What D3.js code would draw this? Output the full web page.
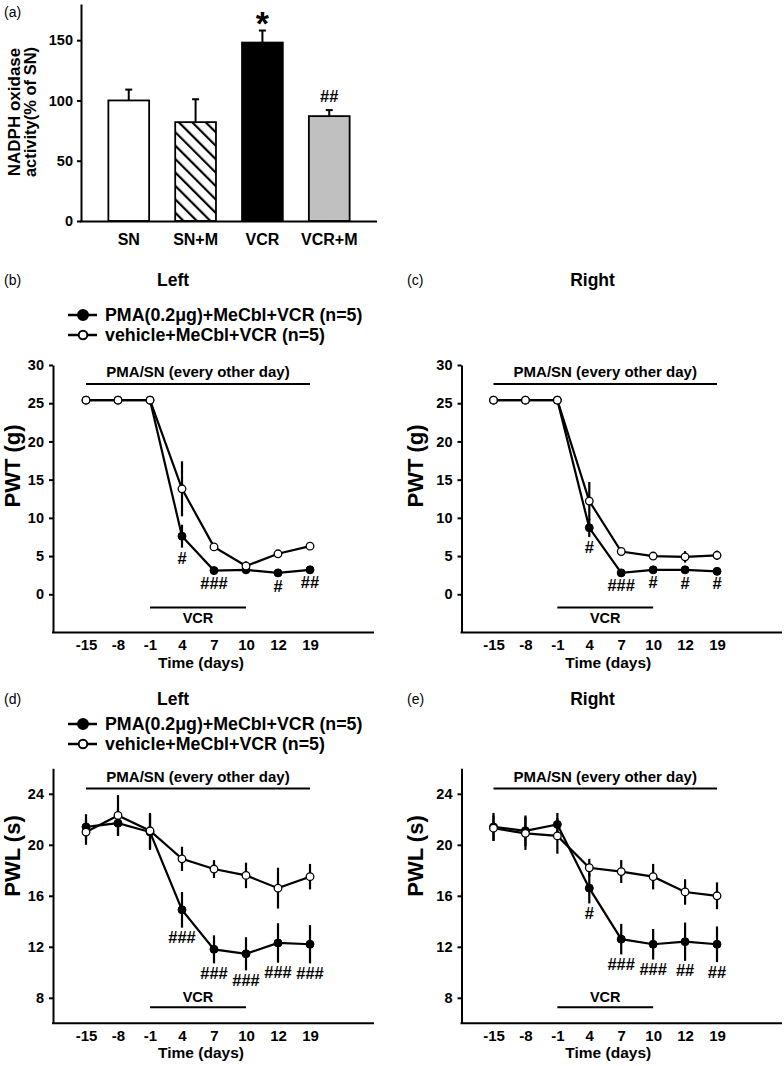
<!DOCTYPE html>
<html><head><meta charset="utf-8">
<script src="https://cdn.jsdelivr.net/npm/d3@7"></script>
<style>body{margin:0;background:#fff} svg text{font-family:"Liberation Sans",Arial,Helvetica,sans-serif}</style>
</head><body><svg id="c" width="784" height="1066"></svg>
<script>
// ---------- data: panel (a) ----------
const barCategories = ["SN", "SN+M", "VCR", "VCR+M"];
const barValues = [100, 82, 148, 87];
const barErrors = [9, 19, 10, 5];
const barMarks = ["", "", "*", "##"];
const barTicks = [0, 50, 100, 150];

// ---------- data: line panels ----------
const days = ["-15", "-8", "-1", "4", "7", "10", "12", "19"];
const pwtTicks = [0, 5, 10, 15, 20, 25, 30];
const pwlTicks = [8, 12, 16, 20, 24];
const legendLabels = ["PMA(0.2\u03bcg)+MeCbl+VCR (n=5)", "vehicle+MeCbl+VCR (n=5)"];

// (b) PWT left
const pwtLeftPMA = [25.4, 25.4, 25.4, 7.6, 3.1, 3.2, 2.8, 3.2];
const pwtLeftPMAErr = [0, 0, 0, 1.5, 0.2, 0.2, 0.3, 0.2];
const pwtLeftVeh = [25.4, 25.4, 25.4, 13.8, 6.2, 3.7, 5.3, 6.3];
const pwtLeftVehErr = [0, 0, 0, 3.6, 0.2, 0.6, 0.5, 0.3];
const pwtLeftSig = ["", "", "", "#", "###", "", "#", "##"];

// (c) PWT right
const pwtRightPMA = [25.4, 25.4, 25.4, 8.7, 2.8, 3.2, 3.2, 3.0];
const pwtRightPMAErr = [0, 0, 0, 1.2, 0.2, 0.2, 0.3, 0.2];
const pwtRightVeh = [25.4, 25.4, 25.4, 12.2, 5.6, 5.0, 4.9, 5.1];
const pwtRightVehErr = [0, 0, 0, 2.5, 0.3, 0.3, 0.75, 0.6];
const pwtRightSig = ["", "", "", "#", "###", "#", "#", "#"];

// (d) PWL left
const pwlLeftPMA = [21.4, 21.7, 21.0, 14.9, 11.8, 11.45, 12.3, 12.2];
const pwlLeftPMAErr = [1.0, 1.0, 1.4, 1.4, 1.1, 1.3, 1.55, 1.5];
const pwlLeftVeh = [21.0, 22.3, 21.1, 18.9, 18.1, 17.6, 16.6, 17.5];
const pwlLeftVehErr = [1.0, 1.6, 1.4, 0.95, 0.7, 1.0, 1.6, 1.0];
const pwlLeftSig = ["", "", "", "###", "###", "###", "###", "###"];

// (e) PWL right
const pwlRightPMA = [21.4, 21.1, 21.6, 16.6, 12.6, 12.2, 12.4, 12.2];
const pwlRightPMAErr = [1.1, 1.2, 0.9, 1.2, 1.2, 1.2, 1.5, 1.4];
const pwlRightVeh = [21.3, 20.9, 20.7, 18.2, 17.9, 17.5, 16.3, 16.0];
const pwlRightVehErr = [1.0, 1.3, 1.4, 0.7, 0.9, 1.0, 1.0, 1.05];
const pwlRightSig = ["", "", "", "#", "###", "###", "##", "##"];

const svg = d3.select("#c");
const F = '"Liberation Sans",Arial,sans-serif';
const SIGF = '"Liberation Serif","Times New Roman",serif';

// ---------- panel (a) ----------
(function(){
  const g = svg.append("g");
  const x = d3.scaleBand().domain(barCategories).range([95, 363]).paddingInner(0.39).paddingOuter(0.2);
  const y = d3.scaleLinear().domain([0, 180]).range([221, 4]);
  const defs = svg.append("defs");
  const pat = defs.append("pattern").attr("id", "hatch").attr("patternUnits", "userSpaceOnUse")
    .attr("width", 9.5).attr("height", 9.5).attr("patternTransform", "rotate(-45)");
  pat.append("rect").attr("width", 9.5).attr("height", 9.5).attr("fill", "#fff");
  pat.append("line").attr("x1", 2).attr("x2", 2).attr("y1", 0).attr("y2", 9.5).attr("stroke", "#000").attr("stroke-width", 2.2);
  const fills = ["#fff", "url(#hatch)", "#000", "#c0c0c0"];

  barCategories.forEach((c, i) => {
    const cx = x(c) + x.bandwidth() / 2;
    g.append("line").attr("x1", cx).attr("x2", cx).attr("y1", y(barValues[i])).attr("y2", y(barValues[i] + barErrors[i]))
      .attr("stroke", "#000").attr("stroke-width", 2);
    g.append("line").attr("x1", cx - 3.5).attr("x2", cx + 3.5).attr("y1", y(barValues[i] + barErrors[i])).attr("y2", y(barValues[i] + barErrors[i]))
      .attr("stroke", "#000").attr("stroke-width", 2);
  });
  g.selectAll("rect.bar").data(barValues).join("rect").attr("class", "bar")
    .attr("x", (d, i) => x(barCategories[i])).attr("width", x.bandwidth())
    .attr("y", d => y(d)).attr("height", d => y(0) - y(d))
    .attr("fill", (d, i) => fills[i]).attr("stroke", "#000").attr("stroke-width", 1.8);

  barCategories.forEach((c, i) => {
    if (!barMarks[i]) return;
    const cx = x(c) + x.bandwidth() / 2;
    const isStar = barMarks[i] === "*";
    g.append("text").attr("x", cx).attr("y", y(barValues[i] + barErrors[i]) - (isStar ? -4 : 8))
      .attr("text-anchor", "middle").attr("font-weight", "bold").attr("font-size", isStar ? 34 : 16.5)
      .attr("font-family", F)
      .text(barMarks[i]);
  });

  const ya = g.append("g").attr("transform", "translate(81,0)")
    .call(d3.axisLeft(y).tickValues(barTicks).tickSize(4).tickPadding(4).tickSizeOuter(0));
  ya.select(".domain").attr("stroke-width", 2);
  ya.selectAll(".tick line").attr("stroke-width", 2);
  ya.selectAll("text").attr("font-size", 14.5).attr("font-weight", "bold").attr("font-family", F);
  g.append("line").attr("x1", 80).attr("x2", 377).attr("y1", 221.5).attr("y2", 221.5).attr("stroke", "#000").attr("stroke-width", 2);
  const xa = g.append("g").attr("transform", "translate(0,221.5)")
    .call(d3.axisBottom(x).tickSize(0).tickPadding(12));
  xa.select(".domain").remove();
  xa.selectAll("text").attr("font-size", 16).attr("font-weight", "bold").attr("font-family", F);

  g.append("text").attr("x", 4).attr("y", 17).attr("font-size", 14).text("(a)");
  const yl = g.append("text").attr("transform", "translate(0,112) rotate(-90)").attr("text-anchor", "middle")
    .attr("font-weight", "bold");
  yl.append("tspan").attr("x", 0).attr("y", 20).attr("font-size", 17).text("NADPH oxidase");
  yl.append("tspan").attr("x", 0).attr("y", 36).attr("font-size", 16.5).text("activity(% of SN)");
})();

// ---------- line panels ----------
function linePanel(o) {
  const g = svg.append("g");
  const x = d3.scalePoint().domain(days).range([o.x0, o.x1]);
  const y = d3.scaleLinear().domain(o.yDomain).range([o.yBottom, o.yTop]);

  const ya = g.append("g").attr("transform", `translate(${o.ox},0)`)
    .call(d3.axisLeft(y).tickValues(o.ticks).tickSize(4).tickPadding(5).tickSizeOuter(0));
  ya.select(".domain").attr("stroke-width", 2);
  ya.selectAll(".tick line").attr("stroke-width", 2);
  ya.selectAll("text").attr("font-size", 14.5).attr("font-weight", "bold").attr("font-family", F);
  g.append("line").attr("x1", o.ox - 1).attr("x2", o.xEnd).attr("y1", o.yBottom).attr("y2", o.yBottom)
    .attr("stroke", "#000").attr("stroke-width", 2);
  const xa = g.append("g").attr("transform", `translate(0,${o.yBottom})`)
    .call(d3.axisBottom(x).tickSize(0).tickPadding(7));
  xa.select(".domain").remove();
  xa.selectAll("text").attr("font-size", 15).attr("font-weight", "bold").attr("font-family", F);
  g.append("text").attr("x", (o.x0 + o.x1) / 2 + 3).attr("y", o.yBottom + 35).attr("text-anchor", "middle")
    .attr("font-size", 15.5).attr("font-weight", "bold").text("Time (days)");

  g.append("text").attr("transform", `translate(${o.ylabelX},${o.ylabelY}) rotate(-90)`).attr("text-anchor", "middle")
    .attr("font-size", 22).attr("font-weight", "bold").text(o.ylabel);

  g.append("text").attr("x", o.plX).attr("y", o.titleY + 5).attr("font-size", 14).text(o.pl);
  g.append("text").attr("x", o.titleX).attr("y", o.titleY + 6).attr("text-anchor", "middle")
    .attr("font-size", 17.5).attr("font-weight", "bold").text(o.title);

  g.append("line").attr("x1", x(days[0])).attr("x2", x(days[days.length - 1])).attr("y1", o.pmaY).attr("y2", o.pmaY)
    .attr("stroke", "#000").attr("stroke-width", 2);
  g.append("text").attr("x", (x(days[0]) + x(days[days.length - 1])) / 2).attr("y", o.pmaY - 7).attr("text-anchor", "middle")
    .attr("font-size", 15).attr("font-weight", "bold").text("PMA/SN (every other day)");
  g.append("line").attr("x1", x("-1")).attr("x2", x("10")).attr("y1", o.vcrY).attr("y2", o.vcrY)
    .attr("stroke", "#000").attr("stroke-width", 2);
  g.append("text").attr("x", (x("-1") + x("10")) / 2).attr("y", o.vcrAbove ? o.vcrY - 5 : o.vcrY + 15).attr("text-anchor", "middle")
    .attr("font-size", 14.5).attr("font-weight", "bold").text("VCR");

  const line = d3.line().x((d, i) => x(days[i])).y(d => y(d));
  const drawSeries = (vals, errs, filled) => {
    vals.forEach((v, i) => {
      if (errs[i] > 0) g.append("line").attr("x1", x(days[i])).attr("x2", x(days[i]))
        .attr("y1", y(v - errs[i])).attr("y2", y(v + errs[i])).attr("stroke", "#000").attr("stroke-width", 2.2);
    });
    g.append("path").datum(vals).attr("d", line).attr("fill", "none").attr("stroke", "#000").attr("stroke-width", 2.2);
    g.selectAll(null).data(vals).join("circle").attr("cx", (d, i) => x(days[i])).attr("cy", d => y(d))
      .attr("r", filled ? 4 : 3.8).attr("fill", filled ? "#000" : "#fff").attr("stroke", "#000").attr("stroke-width", filled ? 1 : 1.3);
  };
  drawSeries(o.pma, o.pmaErr, true);
  drawSeries(o.veh, o.vehErr, false);

  o.sig.forEach((s, i) => {
    if (!s) return;
    g.append("text").attr("x", x(days[i])).attr("y", y(o.pma[i] - o.pmaErr[i]) + o.sigOff + 5.5).attr("text-anchor", "middle")
      .attr("font-size", 16.5).attr("font-weight", "bold").attr("font-family", SIGF).text(s);
  });

  if (o.legendY) {
    legendLabels.forEach((lab, k) => {
      const ly = o.legendY + k * 20;
      g.append("line").attr("x1", 68).attr("x2", 97).attr("y1", ly).attr("y2", ly).attr("stroke", "#000").attr("stroke-width", 2.5);
      g.append("circle").attr("cx", 83).attr("cy", ly).attr("r", k === 0 ? 5 : 4.3)
        .attr("fill", k === 0 ? "#000" : "#fff").attr("stroke", "#000").attr("stroke-width", 2);
      g.append("text").attr("x", 105).attr("y", ly + 6).attr("font-size", 17.8).attr("font-weight", "bold").text(lab);
    });
  }
}

const pwtGeom = { yDomain: [-5, 30], yBottom: 632.5, yTop: 365, ticks: pwtTicks, ylabel: "PWT (g)", ylabelY: 466,
  titleY: 280, pmaY: 384, vcrY: 607.5, vcrAbove: false, sigOff: 11 };
const pwlGeom = { yDomain: [6, 26], yBottom: 1023.3, yTop: 768.3, ticks: pwlTicks, ylabel: "PWL (s)", ylabelY: 856,
  titleY: 699, pmaY: 788.5, vcrY: 1007.3, vcrAbove: true, sigOff: 10 };
const leftGeom = { ox: 53, x0: 86, x1: 310, xEnd: 374, ylabelX: 20, plX: 4, titleX: 173 };
const rightGeom = { ox: 461.5, x0: 493.5, x1: 717, xEnd: 782, ylabelX: 423, plX: 407, titleX: 592.5 };

linePanel(Object.assign({}, pwtGeom, leftGeom, { pl: "(b)", title: "Left", legendY: 315,
  pma: pwtLeftPMA, pmaErr: pwtLeftPMAErr, veh: pwtLeftVeh, vehErr: pwtLeftVehErr, sig: pwtLeftSig }));
linePanel(Object.assign({}, pwtGeom, rightGeom, { pl: "(c)", title: "Right",
  pma: pwtRightPMA, pmaErr: pwtRightPMAErr, veh: pwtRightVeh, vehErr: pwtRightVehErr, sig: pwtRightSig }));
linePanel(Object.assign({}, pwlGeom, leftGeom, { pl: "(d)", title: "Left", legendY: 724,
  pma: pwlLeftPMA, pmaErr: pwlLeftPMAErr, veh: pwlLeftVeh, vehErr: pwlLeftVehErr, sig: pwlLeftSig }));
linePanel(Object.assign({}, pwlGeom, rightGeom, { pl: "(e)", title: "Right",
  pma: pwlRightPMA, pmaErr: pwlRightPMAErr, veh: pwlRightVeh, vehErr: pwlRightVehErr, sig: pwlRightSig }));
</script>
</body></html>
